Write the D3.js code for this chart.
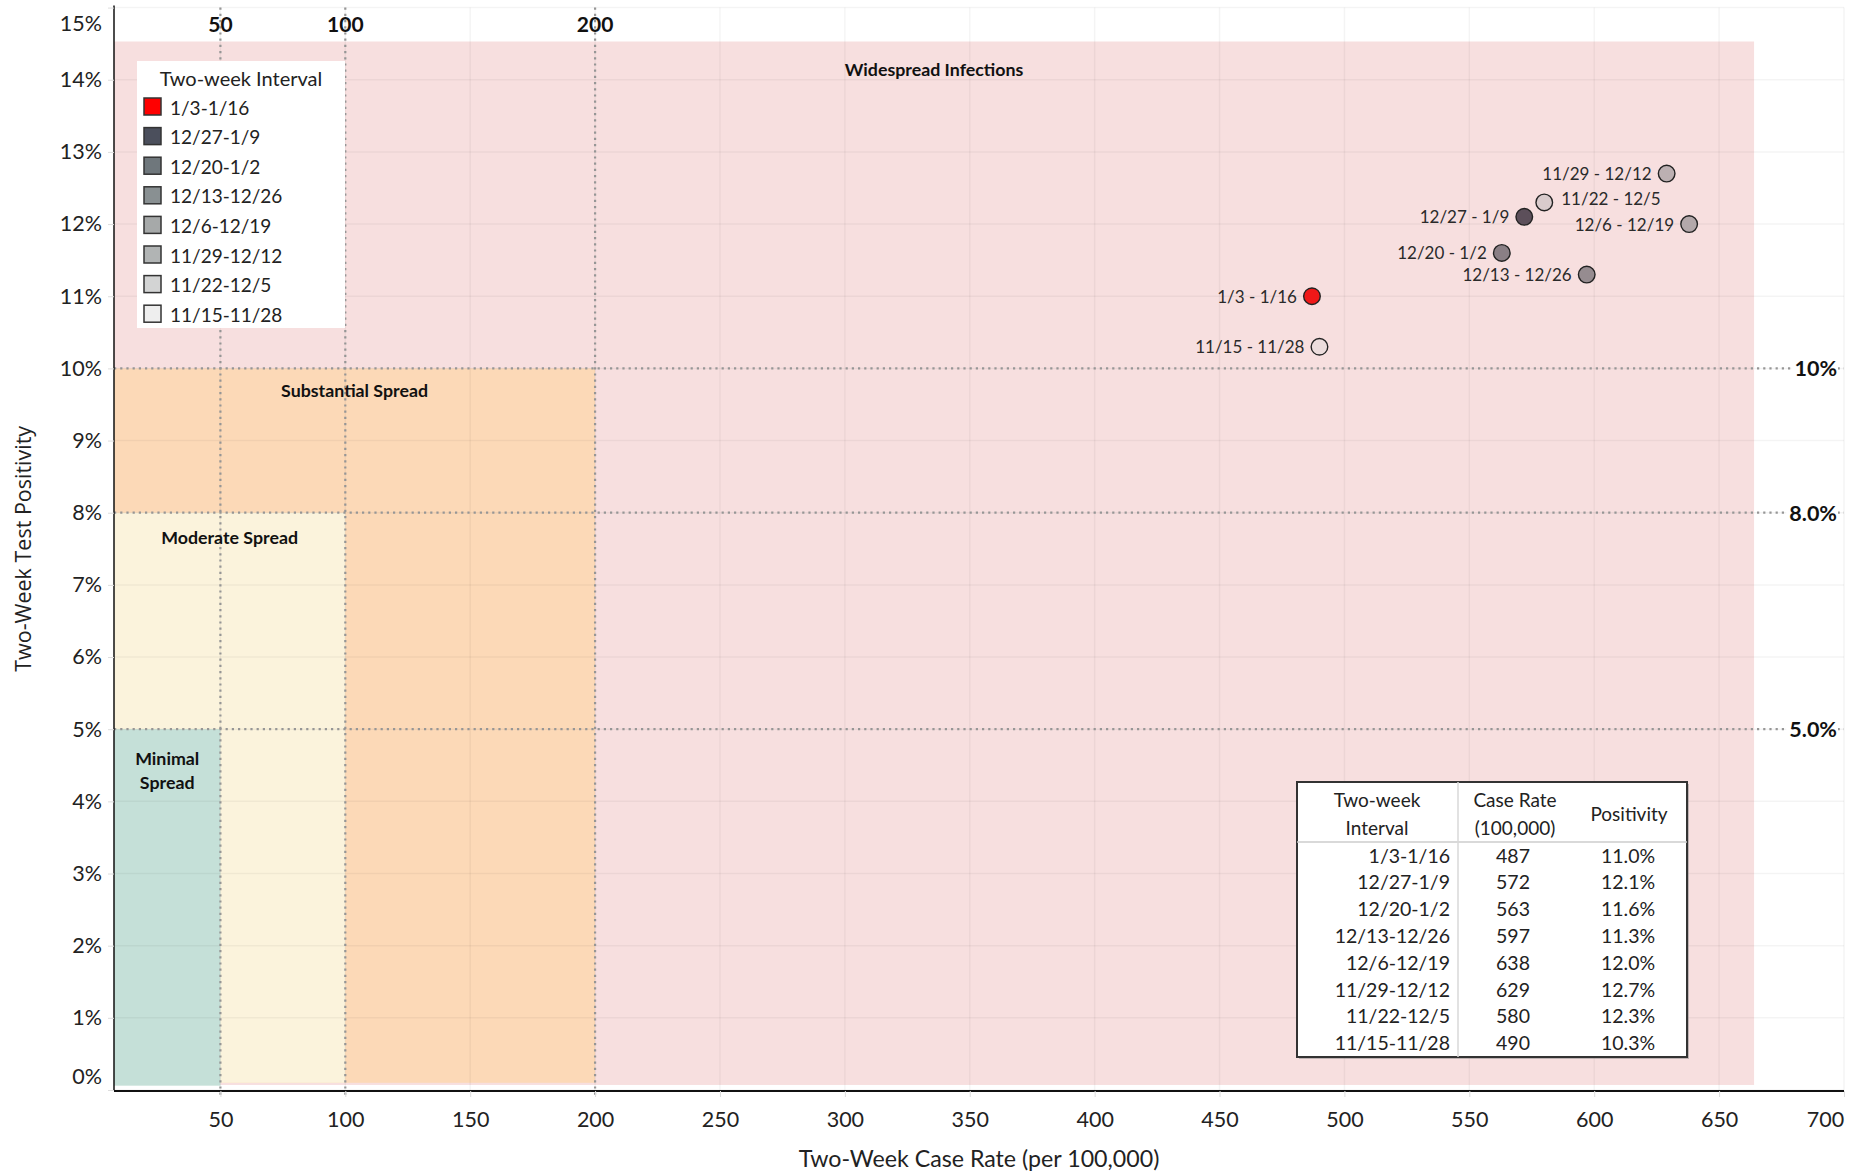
<!DOCTYPE html>
<html>
<head>
<meta charset="utf-8">
<script src="https://cdn.jsdelivr.net/npm/d3@7"></script>
<style>
  html, body { margin: 0; padding: 0; background: #fff; }
  svg { display: block; }
</style>
</head>
<body>
<svg id="chart" width="1860" height="1174"></svg>
<script>
// ---------------- DATA ----------------
const intervals = ["1/3-1/16", "12/27-1/9", "12/20-1/2", "12/13-12/26", "12/6-12/19", "11/29-12/12", "11/22-12/5", "11/15-11/28"];
const caseRates = [487, 572, 563, 597, 638, 629, 580, 490];
const positivity = [11.0, 12.1, 11.6, 11.3, 12.0, 12.7, 12.3, 10.3];
const intervalColors = ["#ff0000", "#4b4f5c", "#6f777c", "#899092", "#a6a9a9", "#b1b4b4", "#d3d4d4", "#eeeeee"];
const pointColors = ["#f01818", "#5c4f5a", "#8a7f85", "#968c90", "#b3a8aa", "#bcb0b2", "#d9cbcc", "#ecdcdc"];
const labelRightSide = ["11/22-12/5"];

const xTicks = [50, 100, 150, 200, 250, 300, 350, 400, 450, 500, 550, 600, 650, 700];
const yTicks = [0, 1, 2, 3, 4, 5, 6, 7, 8, 9, 10, 11, 12, 13, 14, 15];

const caseThresholds = [50, 100, 200];
const positivityThresholds = [10, 8, 5];
const positivityThresholdLabels = ["10%", "8.0%", "5.0%"];

const bandNames = ["Widespread Infections", "Substantial Spread", "Moderate Spread", "Minimal Spread"];
const bandXMax = [664, 200, 100, 50];
const bandYMin = [0.07, 0.1, 0.1, 0.06];
const bandYMax = [14.53, 10, 8, 5];
const bandColors = ["#f7dfdf", "#fcd9b7", "#fbf3dc", "#c5e0d8"];
const bandLabelLines = [["Widespread Infections"], ["Substantial Spread"], ["Moderate Spread"], ["Minimal", "Spread"]];
const bandLabelY = [14.15, 9.7, 7.67, 4.6];

const xDomain = [7.4, 700];
const yDomain = [0, 15];

// ---------------- LAYOUT ----------------
const svg = d3.select("#chart");
const plot = { left: 114, right: 1844, top: 7.6, bottom: 1090 };
const x = d3.scaleLinear().domain(xDomain).range([plot.left, plot.right]);
const y = d3.scaleLinear().domain(yDomain).range([plot.bottom, plot.top]);

const FONT = "Lato, 'Open Sans', sans-serif";
const TXT = "#222";

// bands
const bands = svg.append("g");
bandNames.forEach((n, i) => {
  bands.append("rect")
    .attr("x", x(xDomain[0]))
    .attr("y", y(bandYMax[i]))
    .attr("width", x(bandXMax[i]) - x(xDomain[0]))
    .attr("height", y(bandYMin[i]) - y(bandYMax[i]))
    .attr("fill", bandColors[i]);
});

// gridlines
const grid = svg.append("g").attr("stroke", "#000").attr("stroke-opacity", 0.045).attr("stroke-width", 1.5);
xTicks.forEach(t => grid.append("line").attr("x1", x(t)).attr("x2", x(t)).attr("y1", plot.top).attr("y2", plot.bottom));
yTicks.forEach(t => grid.append("line").attr("x1", plot.left).attr("x2", plot.right).attr("y1", y(t)).attr("y2", y(t)));

// threshold dotted lines
const thr = svg.append("g").attr("stroke", "#969696").attr("stroke-width", 2.2).attr("stroke-dasharray", "2.2,4");
caseThresholds.forEach(t => thr.append("line").attr("x1", x(t)).attr("x2", x(t)).attr("y1", plot.top).attr("y2", plot.bottom + 6));
positivityThresholds.forEach(t => thr.append("line").attr("x1", plot.left).attr("x2", plot.right).attr("y1", y(t)).attr("y2", y(t)));

// band labels
bandNames.forEach((n, i) => {
  const cx = x((xDomain[0] + bandXMax[i]) / 2);
  bandLabelLines[i].forEach((line, j) => {
    svg.append("text")
      .attr("x", cx).attr("y", y(bandLabelY[i]) + j * 24)
      .attr("text-anchor", "middle").attr("dominant-baseline", "central")
      .attr("font-family", FONT).attr("font-weight", 700).attr("font-size", 17.8)
      .attr("fill", "#111").text(line);
  });
});

// top threshold labels
caseThresholds.forEach(t => {
  svg.append("text").attr("x", x(t)).attr("y", 23)
    .attr("text-anchor", "middle").attr("dominant-baseline", "central")
    .attr("font-family", FONT).attr("font-weight", 700).attr("font-size", 21)
    .attr("fill", "#111").text(t);
});

// right threshold labels
positivityThresholds.forEach((t, i) => {
  const tx = svg.append("text").attr("x", 1837).attr("y", y(t))
    .attr("text-anchor", "end").attr("dominant-baseline", "central")
    .attr("font-family", FONT).attr("font-weight", 700).attr("font-size", 21.5)
    .attr("fill", "#111").text(positivityThresholdLabels[i]);
  const bb = tx.node().getBBox();
  svg.insert("rect", () => tx.node()).attr("x", bb.x - 3).attr("y", bb.y).attr("width", bb.width + 4).attr("height", bb.height).attr("fill", "#fff");
});

// axes
const xAxis = d3.axisBottom(x).tickValues(xTicks).tickSize(6).tickPadding(0).tickFormat(d => d);
const gx = svg.append("g").attr("transform", `translate(0,${plot.bottom + 1})`).call(xAxis);
gx.select(".domain").attr("stroke", "#111").attr("stroke-width", 2).attr("d", `M${plot.left},0H${plot.right}`);
gx.selectAll(".tick line").attr("stroke", "#ddd");
gx.selectAll(".tick text").attr("font-family", FONT).attr("font-size", 21.5).attr("fill", TXT)
  .attr("y", 28).attr("dy", "0.35em");
gx.selectAll(".tick text").filter(d => d === 700).attr("dx", -19);

const yAxis = d3.axisLeft(y).tickValues(yTicks).tickSize(6).tickPadding(6).tickFormat(d => d + "%");
const gy = svg.append("g").attr("transform", `translate(${plot.left},0)`).call(yAxis);
gy.select(".domain").attr("stroke", "#111").attr("stroke-width", 1.5).attr("d", `M0,${plot.top - 2}V${plot.bottom + 1}`);
gy.selectAll(".tick line").attr("stroke", "#ddd");
gy.selectAll(".tick text").attr("font-family", FONT).attr("font-size", 21.5).attr("fill", TXT);
gy.selectAll(".tick text").filter(d => d === 0).attr("dy", "-0.3em");
gy.selectAll(".tick text").filter(d => d === 15).attr("dy", "1.05em");

// axis titles
svg.append("text").attr("x", (plot.left + plot.right) / 2).attr("y", 1158)
  .attr("text-anchor", "middle").attr("dominant-baseline", "central")
  .attr("font-family", FONT).attr("font-size", 23.2).attr("fill", TXT)
  .text("Two-Week Case Rate (per 100,000)");
svg.append("text").attr("transform", `translate(22,${(plot.top + plot.bottom) / 2}) rotate(-90)`)
  .attr("text-anchor", "middle").attr("dominant-baseline", "central")
  .attr("font-family", "'Open Sans', sans-serif").attr("font-size", 21.5).attr("fill", TXT)
  .text("Two-Week Test Positivity");

// points
const pts = intervals.map((n, i) => ({ name: n, cr: caseRates[i], pos: positivity[i], color: pointColors[i] }));
const pg = svg.append("g");
pts.slice().reverse().forEach(p => {
  pg.append("circle").attr("cx", x(p.cr)).attr("cy", y(p.pos)).attr("r", 8.3)
    .attr("fill", p.color)
    .attr("stroke", "#222").attr("stroke-width", 1.4);
  const right = labelRightSide.includes(p.name);
  pg.append("text")
    .attr("x", x(p.cr) + (right ? 17 : -15))
    .attr("y", y(p.pos) + (right ? -4 : 0))
    .attr("text-anchor", right ? "start" : "end").attr("dominant-baseline", "central")
    .attr("font-family", FONT).attr("font-size", 17).attr("fill", "#2a2a2a")
    .text(p.name.replace("-", " - "));
});

// legend
const lg = svg.append("g");
lg.append("rect").attr("x", 137).attr("y", 61).attr("width", 208).attr("height", 267).attr("fill", "#fff");
lg.append("text").attr("x", 241).attr("y", 78).attr("text-anchor", "middle").attr("dominant-baseline", "central")
  .attr("font-family", FONT).attr("font-size", 20).attr("fill", TXT).text("Two-week Interval");
intervals.forEach((n, i) => {
  const cy = 107 + i * 29.6;
  lg.append("rect").attr("x", 144).attr("y", cy - 9).attr("width", 17).attr("height", 17)
    .attr("fill", intervalColors[i]).attr("stroke", "#333").attr("stroke-width", 1.5);
  lg.append("text").attr("x", 170).attr("y", cy).attr("dominant-baseline", "central")
    .attr("font-family", FONT).attr("font-size", 19).attr("fill", TXT).text(n);
});

// table
const tg = svg.append("g");
const tb = { x: 1297, y: 782, w: 390, h: 275 };
tg.append("rect").attr("x", tb.x + 2).attr("y", tb.y + 2).attr("width", tb.w).attr("height", tb.h).attr("fill", "#888").attr("opacity", 0.5);
tg.append("rect").attr("x", tb.x).attr("y", tb.y).attr("width", tb.w).attr("height", tb.h).attr("fill", "#fff").attr("stroke", "#333").attr("stroke-width", 2);
tg.append("line").attr("x1", tb.x).attr("x2", tb.x + tb.w).attr("y1", 842).attr("y2", 842).attr("stroke", "#ccc").attr("stroke-width", 1.5);
tg.append("line").attr("x1", 1458).attr("x2", 1458).attr("y1", tb.y).attr("y2", tb.y + tb.h).attr("stroke", "#d8d8d8").attr("stroke-width", 1.5);
const th = (tx, ty, t) => tg.append("text").attr("x", tx).attr("y", ty).attr("text-anchor", "middle").attr("dominant-baseline", "central")
  .attr("font-family", FONT).attr("font-size", 19).attr("fill", TXT).text(t);
th(1377, 799, "Two-week"); th(1377, 827, "Interval");
th(1515, 799, "Case Rate"); th(1515, 827, "(100,000)");
th(1629, 813, "Positivity");
intervals.forEach((n, i) => {
  const ry = 855 + i * 26.8;
  tg.append("text").attr("x", 1450).attr("y", ry).attr("text-anchor", "end").attr("dominant-baseline", "central")
    .attr("font-family", FONT).attr("font-size", 19.5).attr("fill", TXT).text(n);
  tg.append("text").attr("x", 1513).attr("y", ry).attr("text-anchor", "middle").attr("dominant-baseline", "central")
    .attr("font-family", FONT).attr("font-size", 19.5).attr("fill", TXT).text(caseRates[i]);
  tg.append("text").attr("x", 1628).attr("y", ry).attr("text-anchor", "middle").attr("dominant-baseline", "central")
    .attr("font-family", FONT).attr("font-size", 19.5).attr("fill", TXT).text(positivity[i].toFixed(1) + "%");
});
</script>
</body>
</html>
